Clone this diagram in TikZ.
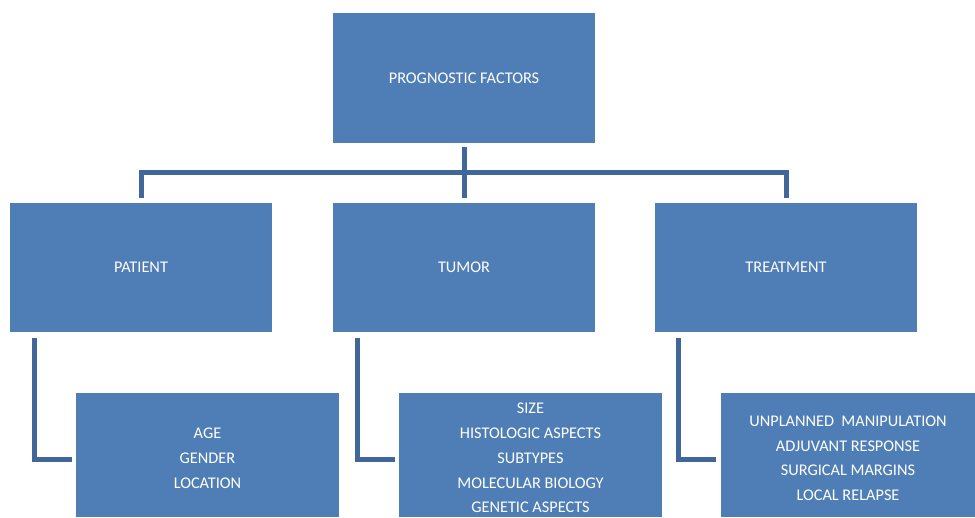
\documentclass[tikz,border=0pt]{standalone}
\usepackage{fontspec}
\setmainfont{Carlito}
\definecolor{boxblue}{HTML}{4F7EB6}
\definecolor{lineblue}{HTML}{41669A}
\begin{document}
\begin{tikzpicture}[x=1pt,y=-1pt,
            factor/.style={fill=boxblue, text=white, inner sep=0pt, align=center,
                minimum width=262pt, minimum height=130pt,
                font=\fontsize{16.3}{24.75}\selectfont},
            item/.style={factor, minimum width=263pt, minimum height=124pt},
            conn/.style={draw=lineblue, line width=5pt}]
            \useasboundingbox (0,0) rectangle (975,517);

            \node[factor] (prog) at (464,78) {PROGNOSTIC FACTORS};

            \node[factor, minimum height=129pt] (patient) at (141,267.5) {PATIENT};
            \node[factor, minimum height=129pt] (tumor) at (464,267.5) {TUMOR};
            \node[factor, minimum height=129pt] (treatment) at (786,267.5) {TREATMENT};

            \node[item] (age) at (207.5,455) {\rule{0pt}{17pt}AGE\\GENDER\\LOCATION};
            \node[item] (aspects) at (530.5,455) {\rule{0pt}{17pt}SIZE\\HISTOLOGIC ASPECTS\\SUBTYPES\\MOLECULAR BIOLOGY\\GENETIC ASPECTS};
            \node[item, minimum width=254pt] (therapy) at (848,455) {\rule{0pt}{17pt}UNPLANNED~ MANIPULATION\\ADJUVANT RESPONSE\\SURGICAL MARGINS\\LOCAL RELAPSE};

            \coordinate (bus) at (464,172.5);

            \draw[conn] ([yshift=-4pt]prog.south) -- ([yshift=5pt]tumor.north);
            \draw[conn] ([yshift=5pt]patient.north) |- (bus) -| ([yshift=5pt]treatment.north);

            \draw[conn] ([xshift=24.5pt,yshift=-6pt]patient.south west) |- ([xshift=-4pt,yshift=-4pt]age.west);
            \draw[conn] ([xshift=25pt,yshift=-6pt]tumor.south west) |- ([xshift=-4pt,yshift=-4pt]aspects.west);
            \draw[conn] ([xshift=24pt,yshift=-6pt]treatment.south west) |- ([xshift=-5pt,yshift=-4pt]therapy.west);
        \end{tikzpicture}
\end{document}
